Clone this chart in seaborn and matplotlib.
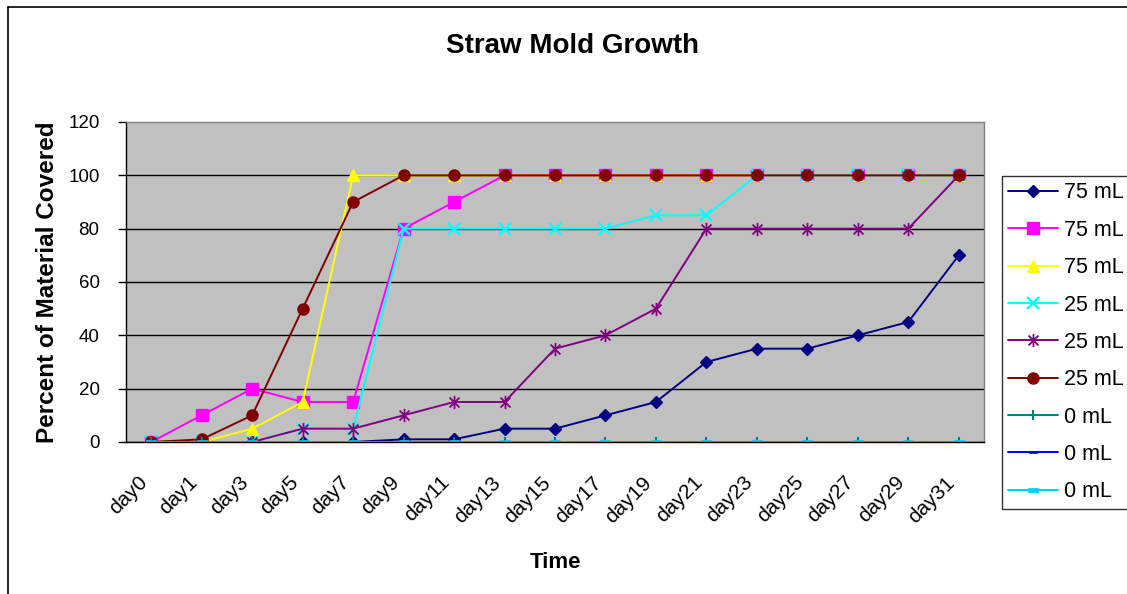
"""
Straw Mold Growth - recreation of an Excel line chart with seaborn
"""

import numpy as np
import matplotlib
matplotlib.use("Agg")
import matplotlib.pyplot as plt
import matplotlib.transforms as mtransforms
from matplotlib.path import Path
from matplotlib.lines import Line2D
import seaborn as sns

# Data (percent of material covered)
days = ["day0", "day1", "day3", "day5", "day7", "day9", "day11", "day13", "day15",
        "day17", "day19", "day21", "day23", "day25", "day27", "day29", "day31"]

navy_75 = [0, 0, 0, 0, 0, 1, 1, 5, 5, 10, 15, 30, 35, 35, 40, 45, 70]
magenta_75 = [0, 10, 20, 15, 15, 80, 90, 100, 100, 100, 100, 100, 100, 100, 100, 100, 100]
yellow_75 = [0, 0, 5, 15, 100, 100, 100, 100, 100, 100, 100, 100, 100, 100, 100, 100, 100]
cyan_25 = [0, 0, 0, 5, 5, 80, 80, 80, 80, 80, 85, 85, 100, 100, 100, 100, 100]
purple_25 = [0, 0, 0, 5, 5, 10, 15, 15, 35, 40, 50, 80, 80, 80, 80, 80, 100]
brown_25 = [0, 1, 10, 50, 90, 100, 100, 100, 100, 100, 100, 100, 100, 100, 100, 100, 100]
teal_0 = [0] * 17
blue_0 = [0] * 17
sky_0 = [0] * 17

labels = ["75 mL", "75 mL", "75 mL", "25 mL", "25 mL", "25 mL", "0 mL", "0 mL", "0 mL"]

# Custom Excel-like markers
asterisk = Path([(0, -1), (0, 1), (-0.75, -0.75), (0.75, 0.75), (-0.75, 0.75), (0.75, -0.75)],
                [Path.MOVETO, Path.LINETO, Path.MOVETO, Path.LINETO, Path.MOVETO, Path.LINETO])
dash = Path([(-1, -0.35), (1, -0.35), (1, 0.35), (-1, 0.35), (-1, -0.35)],
            [Path.MOVETO, Path.LINETO, Path.LINETO, Path.LINETO, Path.CLOSEPOLY])

series = [
    (navy_75, "#000080", "D", 6.6, "#000080", 1.0),
    (magenta_75, "#FF00FF", "s", 8, "#FF00FF", 1.0),
    (yellow_75, "#FFFF00", "^", 9, "#FFFF00", 1.0),
    (cyan_25, "#00FFFF", "x", 9, "none", 1.6),
    (purple_25, "#800080", asterisk, 9.5, "none", 1.3),
    (brown_25, "#800000", "o", 8, "#800000", 1.0),
    (teal_0, "#008080", "+", 7, "none", 1.5),
    (blue_0, "#0000FF", dash, 6, "#0000FF", 0.5),
    (sky_0, "#00CCFF", dash, 7.5, "#00CCFF", 0.5),
]

sns.set_theme(style="white")
plt.rcParams["font.family"] = ["Liberation Sans", "DejaVu Sans"]
plt.rcParams["text.color"] = "black"
plt.rcParams["axes.labelcolor"] = "black"
plt.rcParams["xtick.color"] = "black"
plt.rcParams["ytick.color"] = "black"

fig = plt.figure(figsize=(11.27, 5.94), dpi=100)
ax = fig.add_axes([126 / 1127, 1 - 442 / 594, 858 / 1127, 320 / 594])
ax.set_facecolor("#C0C0C0")

x = np.arange(len(days))
for (vals, color, marker, ms, mfc, mew), label in zip(series, labels):
    sns.lineplot(x=x, y=vals, ax=ax, color=color, linewidth=1.4, marker=marker,
                 markersize=ms, markerfacecolor=mfc, markeredgecolor=color,
                 markeredgewidth=mew, label=label, legend=False)

# axes ranges and ticks
ax.set_xlim(-0.5, len(days) - 0.5)
ax.set_ylim(0, 120)
ax.set_yticks(range(0, 121, 20))
ax.set_xticks(x)
ax.set_xticklabels(days)
ax.set_xticks(np.arange(-0.5, len(days), 1), minor=True)
ax.tick_params(axis="x", which="major", length=0, pad=27, labelsize=15)
ax.tick_params(axis="x", which="minor", length=5, width=1, color="black", direction="out")
ax.tick_params(axis="y", length=6, width=1, color="black", direction="out", pad=13,
               labelsize=13.5, left=True)
shift = mtransforms.ScaledTranslation(-7 / 100, 0, fig.dpi_scale_trans)
for lbl in ax.get_xticklabels():
    lbl.set_rotation(45)
    lbl.set_ha("right")
    lbl.set_va("center")
    lbl.set_rotation_mode("anchor")
    lbl.set_transform(lbl.get_transform() + shift)

ax.yaxis.grid(True, color="black", linewidth=1)
ax.set_axisbelow(True)
ax.get_ygridlines()[-1].set_visible(False)

for side in ["left", "bottom"]:
    ax.spines[side].set_color("black")
    ax.spines[side].set_linewidth(1)
for side in ["top", "right"]:
    ax.spines[side].set_color("#808080")
    ax.spines[side].set_linewidth(1)

ax.set_xlabel("Time", fontsize=16, fontweight="bold")
ax.xaxis.set_label_coords(0.5, -0.345)
ax.xaxis.label.set_va("top")
ax.set_ylabel("Percent of Material Covered", fontsize=17.5, fontweight="bold")
ax.yaxis.set_label_coords(-0.092, 0.5)
ax.yaxis.label.set_va("center")

fig.text(573 / 1127, 1 - 46 / 594, "Straw Mold Growth", ha="center", va="center",
         fontsize=20, fontweight="bold")

# legend (right side, partly cut by the figure edge like the original)
handles, leg_labels = ax.get_legend_handles_labels()
leg = ax.legend(handles, leg_labels, loc="upper left",
                bbox_to_anchor=(1002 / 1127, 1 - 176 / 594), bbox_transform=fig.transFigure,
                fontsize=15.5, frameon=True, fancybox=False, edgecolor="black",
                borderaxespad=0, borderpad=0.3, labelspacing=0.76, handlelength=2.3,
                handletextpad=0.3)
leg.get_frame().set_linewidth(1)
leg.get_frame().set_facecolor("white")

# outer chart border (left and top edges visible)
fig.add_artist(Line2D([8 / 1127, 8 / 1127], [0, 1 - 7 / 594], transform=fig.transFigure,
                      color="black", linewidth=1.2))
fig.add_artist(Line2D([8 / 1127, 1], [1 - 7 / 594, 1 - 7 / 594], transform=fig.transFigure,
                      color="black", linewidth=1.2))

fig.savefig("out.png", dpi=100)
